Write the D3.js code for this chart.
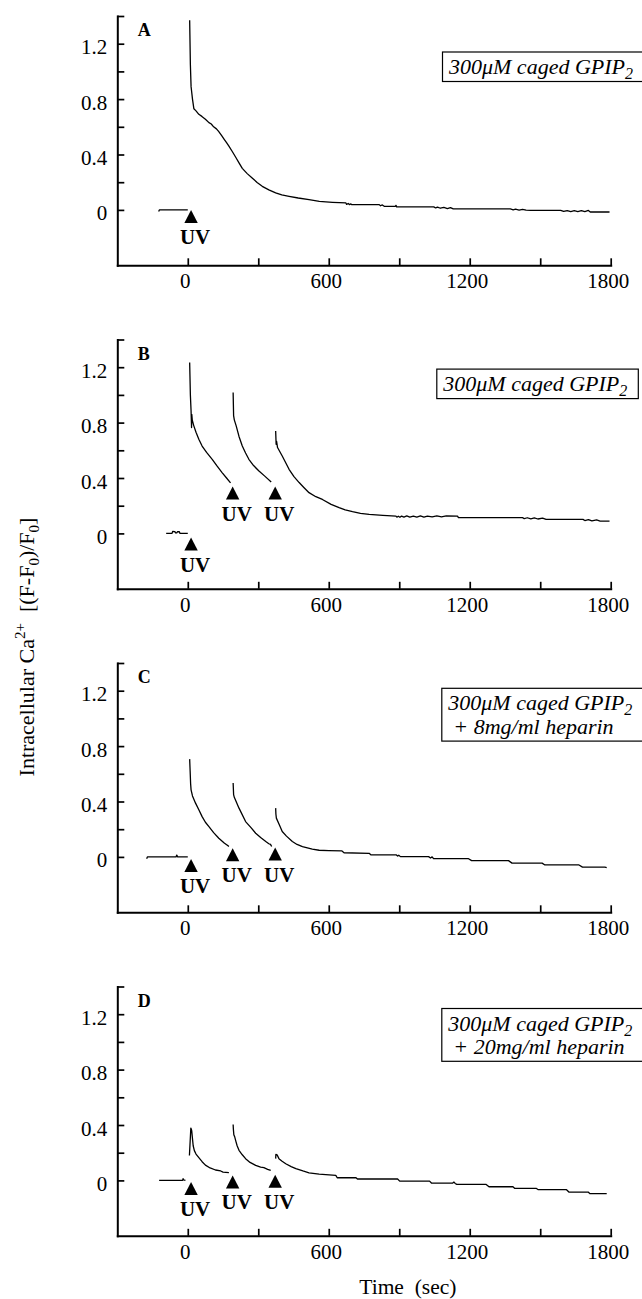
<!DOCTYPE html>
<html>
<head>
<meta charset="utf-8">
<script src="https://cdn.jsdelivr.net/npm/d3@7"></script>
<style>
  body { margin: 0; background: #fff; }
  svg { display: block; font-family: "Liberation Serif", "Times New Roman", serif; }
  .axis path, .axis line { stroke: #000; }
  .axis path { stroke-width: 2; stroke-linecap: square; }
  .axis line { stroke-width: 1.7; }
  .axis text { font-size: 21px; fill: #000; font-family: "Liberation Serif", "Times New Roman", serif; }
</style>
</head>
<body>
<div id="chart"></div>
<script>
"use strict"

// ---- data ----
const panelLetters = ["A", "B", "C", "D"];
const legendMain = "300μM caged GPIP";
const legendSub = "2";
const legendExtra = [null, null, "+ 8mg/ml heparin", "+ 20mg/ml heparin"];

const xTicks = [0, 300, 600, 900, 1200, 1500, 1800];
const xLabels = [0, 600, 1200, 1800];
const yTicks = [0, 0.2, 0.4, 0.6, 0.8, 1.0, 1.2, 1.4];
const yLabels = [0, 0.4, 0.8, 1.2];

// traces: segments of [time (sec), (F-F0)/F0]
const traceA = [
  [[-124, -0.012], [-121, 0], [0, 0]],
  [[8, 1.37], [11, 1.05], [14, 0.89], [16, 0.86], [20, 0.80], [26, 0.73], [35, 0.715], [47, 0.69], [60, 0.675],
   [75, 0.655], [90, 0.63], [100, 0.62], [110, 0.60], [122, 0.585], [132, 0.565], [145, 0.535], [155, 0.51],
   [165, 0.485], [175, 0.46], [190, 0.42], [204, 0.38], [218, 0.34], [232, 0.30], [253, 0.262], [274, 0.23],
   [295, 0.198], [317, 0.17], [345, 0.145], [374, 0.123], [400, 0.108], [431, 0.098], [470, 0.086], [516, 0.074],
   [560, 0.062], [616, 0.055], [673, 0.05], [676, 0.04], [683, 0.046], [688, 0.038], [694, 0.043], [698, 0.038],
   [815, 0.038], [820, 0.03], [828, 0.036], [836, 0.026], [884, 0.026], [886, 0.033], [889, 0.022],
   [1047, 0.022], [1055, 0.014], [1063, 0.02], [1075, 0.012], [1090, 0.018], [1105, 0.01], [1118, 0.017],
   [1130, 0.007], [1373, 0.007], [1385, 0.0], [1395, 0.005], [1410, -0.002], [1425, 0.004], [1440, -0.001],
   [1459, -0.003], [1587, -0.003], [1600, -0.011], [1615, -0.005], [1630, -0.012], [1645, -0.006],
   [1660, -0.012], [1675, -0.005], [1690, -0.013], [1705, -0.004], [1713, -0.015], [1795, -0.015]]
];
const traceB = [
  [[-92, 0], [-67, 0], [-64, 0.015], [-55, 0.013], [-52, 0.004], [-47, 0.004], [-44, 0.012], [-36, 0.012], [-33, 0], [0, 0]],
  [[8, 1.234], [11, 1.0], [14, 0.884], [16, 0.764], [17, 0.86], [19, 0.82], [25, 0.78], [35, 0.73], [47, 0.68],
   [61, 0.631], [80, 0.585], [104, 0.535], [125, 0.485], [146, 0.439], [165, 0.40], [182, 0.365]],
  [[193, 1.017], [195, 0.85], [198, 0.82], [206, 0.776], [218, 0.70], [232, 0.631], [246, 0.58], [260, 0.535],
   [280, 0.49], [303, 0.45], [330, 0.41], [355, 0.371]],
  [[374, 0.74], [376, 0.643], [378, 0.665], [382, 0.62], [402, 0.559], [431, 0.463], [452, 0.41], [474, 0.367],
   [495, 0.33], [516, 0.294], [545, 0.265], [573, 0.245], [610, 0.21], [644, 0.186], [670, 0.17], [701, 0.157],
   [735, 0.145], [772, 0.137], [830, 0.13], [886, 0.125], [890, 0.117], [896, 0.124], [903, 0.116], [910, 0.125],
   [920, 0.118], [932, 0.126], [945, 0.117], [960, 0.125], [975, 0.118], [990, 0.126], [1005, 0.117],
   [1020, 0.125], [1040, 0.119], [1060, 0.127], [1080, 0.12], [1100, 0.126], [1148, 0.125], [1152, 0.114],
   [1425, 0.114], [1432, 0.106], [1445, 0.113], [1460, 0.105], [1475, 0.112], [1490, 0.104], [1510, 0.111],
   [1525, 0.101], [1682, 0.101], [1690, 0.093], [1705, 0.1], [1720, 0.09], [1740, 0.097], [1755, 0.089], [1795, 0.089]]
];
const traceC = [
  [[-175, -0.013], [-172, 0], [-50, 0], [-47, 0.013], [-43, 0], [0, 0]],
  [[8, 0.706], [10, 0.62], [12, 0.53], [14, 0.484], [20, 0.44], [33, 0.388], [47, 0.34], [61, 0.291], [75, 0.25],
   [90, 0.219], [110, 0.175], [132, 0.135], [155, 0.10], [170, 0.082], [175, 0.075]],
  [[193, 0.533], [195, 0.45], [198, 0.43], [218, 0.352], [246, 0.255], [270, 0.21], [289, 0.171], [310, 0.14],
   [332, 0.111], [345, 0.095], [352, 0.09], [357, 0.075]],
  [[374, 0.352], [375, 0.31], [377, 0.28], [390, 0.23], [402, 0.183], [420, 0.15], [445, 0.111], [465, 0.09],
   [488, 0.074], [530, 0.056], [559, 0.048], [600, 0.046], [655, 0.044], [665, 0.03], [772, 0.026], [780, 0.014],
   [888, 0.014], [893, 0.006], [898, 0.012], [905, 0.002], [1025, 0.002], [1033, -0.008], [1040, 0.0],
   [1046, -0.013], [1195, -0.013], [1208, -0.027], [1365, -0.027], [1380, -0.045], [1508, -0.045],
   [1520, -0.058], [1665, -0.058], [1680, -0.074], [1775, -0.074], [1783, -0.078]]
];
const traceD = [
  [[-122, 0], [-22, 0], [-20, 0.013], [-18, 0.003], [-10, 0]],
  [[7, 0.18], [13, 0.378], [15, 0.37], [17, 0.355], [20, 0.3], [23, 0.25], [28, 0.215], [35, 0.19], [47, 0.165],
   [61, 0.135], [75, 0.11], [95, 0.09], [118, 0.075], [140, 0.068], [150, 0.06], [175, 0.056]],
  [[193, 0.403], [194, 0.37], [196, 0.33], [200, 0.313], [205, 0.28], [210, 0.25], [218, 0.217], [232, 0.185],
   [246, 0.157], [265, 0.13], [289, 0.108], [310, 0.096], [324, 0.092], [340, 0.08], [353, 0.072]],
  [[374, 0.157], [375, 0.188], [380, 0.185], [388, 0.157], [400, 0.14], [417, 0.12], [440, 0.1], [460, 0.085],
   [490, 0.068], [516, 0.055], [559, 0.045], [630, 0.036], [636, 0.019], [716, 0.019], [722, 0.01], [893, 0.01],
   [902, -0.005], [1029, -0.005], [1037, -0.019], [1128, -0.019], [1133, -0.012], [1138, -0.022], [1145, -0.029],
   [1270, -0.029], [1282, -0.046], [1384, -0.046], [1392, -0.058], [1484, -0.058], [1492, -0.067],
   [1612, -0.067], [1622, -0.084], [1704, -0.084], [1712, -0.096], [1783, -0.096]]
];

// UV flash markers: [time, value at arrow tip]
const uvA = [[14, 0]];
const uvB = [[14, -0.03], [191, 0.338], [372, 0.338]];
const uvC = [[14, -0.015], [191, 0.063], [372, 0.067]];
const uvD = [[14, -0.012], [191, 0.036], [372, 0.041]];

const traces = [traceA, traceB, traceC, traceD];
const uvMarks = [uvA, uvB, uvC, uvD];

// ---- layout ----
const size = {width: 642, height: 1299};
const plot = {left: 117.3, right: 610.7, top: 16, height: 249.3, step: 323.5};
// first legend baseline, relative to the panel top
const legendPos = [{x: 449, y: 58}, {x: 443.3, y: 51.6}, {x: 448.3, y: 47.3}, {x: 448.3, y: 44}];

const svg = d3.select("#chart").append("svg")
    .attr("width", size.width)
    .attr("height", size.height);

const x = d3.scaleLinear().domain([-300, 1800]).range([plot.left, plot.right]);

const line = d3.line();

panelLetters.forEach(function(letter, i) {
  const top = plot.top + i * plot.step;
  const y = d3.scaleLinear().domain([-0.4, 1.4]).range([top + plot.height, top]);
  const g = svg.append("g");

  // axes
  g.append("g")
      .attr("class", "axis")
      .attr("transform", "translate(0," + (top + plot.height) + ")")
      .call(d3.axisBottom(x).tickValues(xTicks).tickSize(-7).tickSizeOuter(0).tickPadding(8)
        .tickFormat(function(d) { return xLabels.includes(d) ? d : ""; }))
      .call(function(a) { a.selectAll("text").attr("dx", "-3"); });

  g.append("g")
      .attr("class", "axis")
      .attr("transform", "translate(" + plot.left + ",0)")
      .call(d3.axisLeft(y).tickValues(yTicks).tickSize(-7).tickSizeOuter(0).tickPadding(10)
        .tickFormat(function(d) { return yLabels.includes(d) ? (d === 0 ? "0" : d.toFixed(1)) : ""; }))
      .call(function(a) { a.selectAll("text").attr("dy", "0.48em"); });

  // trace segments
  line.x(function(d) { return x(d[0]); })
      .y(function(d) { return y(d[1]); });
  g.selectAll(".trace")
    .data(traces[i])
    .enter().append("path")
      .attr("class", "trace")
      .attr("d", line)
      .attr("fill", "none")
      .attr("stroke", "#000")
      .attr("stroke-width", 1.3)
      .attr("stroke-linejoin", "round");

  // UV arrows
  const uv = g.selectAll(".uv")
    .data(uvMarks[i])
    .enter().append("g")
      .attr("class", "uv")
      .attr("transform", function(d) { return "translate(" + x(d[0]) + "," + y(d[1]) + ")"; });
  uv.append("path")
      .attr("d", "M0,0L6.7,13L-6.7,13Z")
      .attr("fill", "#000");
  uv.append("text")
      .attr("x", 4)
      .attr("y", 34)
      .attr("text-anchor", "middle")
      .attr("font-weight", "bold")
      .attr("font-size", 21)
      .text("UV");

  // panel letter
  g.append("text")
      .attr("x", 137.7)
      .attr("y", top + 20)
      .attr("font-weight", "bold")
      .attr("font-size", 18)
      .text(letter);

  // legend box
  const pos = legendPos[i];
  const leg = g.append("g").attr("font-style", "italic").attr("font-size", 22);
  const t1 = leg.append("text")
      .attr("x", pos.x)
      .attr("y", top + pos.y);
  t1.append("tspan").text(legendMain);
  t1.append("tspan").attr("font-size", 16).attr("dy", 5).text(legendSub);
  let w = t1.node().getBBox().width;
  let lines = 1;
  if (legendExtra[i]) {
    const t2 = leg.append("text")
        .attr("x", pos.x + 5)
        .attr("y", top + pos.y + 23.3)
        .text(legendExtra[i]);
    w = Math.max(w, t2.node().getBBox().width + 5);
    lines = 2;
  }
  leg.insert("rect", "text")
      .attr("x", pos.x - 6.5)
      .attr("y", top + pos.y - 22)
      .attr("width", w + 16.5)
      .attr("height", (lines - 1) * 23.3 + 29.5)
      .attr("fill", "#fff")
      .attr("stroke", "#000")
      .attr("stroke-width", 1.2);
});

// shared axis titles
const yTitle = svg.append("text")
    .attr("transform", "translate(34,647) rotate(-90)")
    .attr("text-anchor", "middle")
    .attr("font-size", 22)
    .style("white-space", "pre");
yTitle.append("tspan").text("Intracellular Ca");
yTitle.append("tspan").attr("font-size", 15).attr("dy", -9).text("2+");
yTitle.append("tspan").attr("dy", 9).text("  [(F-F");
yTitle.append("tspan").attr("font-size", 15).attr("dy", 5).text("0");
yTitle.append("tspan").attr("dy", -5).text(")/F");
yTitle.append("tspan").attr("font-size", 15).attr("dy", 5).text("0");
yTitle.append("tspan").attr("dy", -5).text("]");

svg.append("text")
    .attr("x", 359.3)
    .attr("y", 1294)
    .attr("font-size", 21.5)
    .style("white-space", "pre")
    .text("Time  (sec)");
</script>
</body>
</html>
